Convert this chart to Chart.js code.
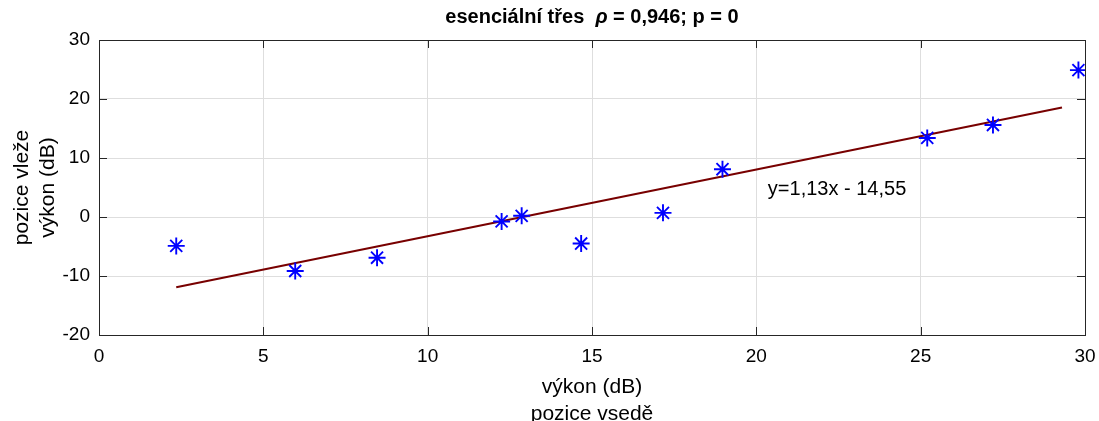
<!DOCTYPE html>
<html>
<head>
<meta charset="utf-8">
<script src="https://cdn.jsdelivr.net/npm/chart.js@4"></script>
<style>
    html, body { margin: 0; padding: 0; background: #fff; }
    #wrap { width: 1099px; height: 421px; }
</style>
</head>
<body>
<div id="wrap"><canvas id="myScatterChart"></canvas></div>
<script>
// values
var pointX = [2.35, 5.97, 8.46, 12.25, 12.86, 14.67, 17.16, 18.97, 25.2, 27.2, 29.8];
var pointY = [-4.9, -9.15, -6.9, -0.75, 0.2, -4.5, 0.7, 8.1, 13.4, 15.6, 24.9];
var fitX = [2.35, 29.3];
var fitY = [-11.9, 18.56];
var xTicks = [0, 5, 10, 15, 20, 25, 30];
var yTicks = [-20, -10, 0, 10, 20, 30];
var fitLabel = "y=1,13x - 14,55";
var fitLabelPos = [20.35, 4.6];

var fontName = "'Liberation Sans', Arial, sans-serif";
var axisColor = "#262626";

function toPoints(xs, ys) {
    var out = [];
    for (var i = 0; i < xs.length; i++) {
        out.push({ x: xs[i], y: ys[i] });
    }
    return out;
}

// title with italic rho, box around plot, inward tick marks, fit text
var matlabLook = {
    id: "matlabLook",
    afterDraw: function (chart) {
        var ctx = chart.ctx;
        var area = chart.chartArea;
        var xs = chart.scales.x;
        var ys = chart.scales.y;

        ctx.save();
        ctx.strokeStyle = axisColor;
        ctx.lineWidth = 1;
        ctx.beginPath();
        for (var i = 0; i < xTicks.length; i++) {
            var px = Math.round(xs.getPixelForValue(xTicks[i])) + 0.5;
            ctx.moveTo(px, area.bottom);
            ctx.lineTo(px, area.bottom - 8);
            ctx.moveTo(px, area.top);
            ctx.lineTo(px, area.top + 8);
        }
        for (var j = 0; j < yTicks.length; j++) {
            var py = Math.round(ys.getPixelForValue(yTicks[j])) + 0.5;
            ctx.moveTo(area.left, py);
            ctx.lineTo(area.left + 8, py);
            ctx.moveTo(area.right, py);
            ctx.lineTo(area.right - 8, py);
        }
        ctx.stroke();
        ctx.strokeRect(Math.round(area.left) + 0.5, Math.round(area.top) + 0.5,
            Math.round(area.right - area.left), Math.round(area.bottom - area.top));

        // fit equation
        ctx.fillStyle = "#000";
        ctx.font = "20px " + fontName;
        ctx.textBaseline = "middle";
        ctx.textAlign = "left";
        ctx.fillText(fitLabel, xs.getPixelForValue(fitLabelPos[0]), ys.getPixelForValue(fitLabelPos[1]));

        // title
        var parts = [
            { t: "esenciální třes  ", f: "bold 20px " + fontName },
            { t: "ρ", f: "italic bold 20px " + fontName },
            { t: " = 0,946; p = 0", f: "bold 20px " + fontName }
        ];
        var total = 0;
        parts.forEach(function (p) { ctx.font = p.f; p.w = ctx.measureText(p.t).width; total += p.w; });
        var tx = (area.left + area.right) / 2 - total / 2;
        ctx.fillStyle = "#000";
        parts.forEach(function (p) {
            ctx.font = p.f;
            ctx.fillText(p.t, tx, 17);
            tx += p.w;
        });
        ctx.restore();
    }
};

function displayScatterChart() {
    var canvasID = document.getElementById("myScatterChart");

    var scatterData = {
        datasets: [{
            type: "line",
            data: toPoints(fitX, fitY),
            borderColor: "#780000",
            borderWidth: 2.2,
            pointRadius: 0,
            fill: false,
            order: 2
        }, {
            type: "scatter",
            data: toPoints(pointX, pointY),
            pointStyle: "star",
            pointRadius: 8.5,
            pointHoverRadius: 8.5,
            borderColor: "#0000ff",
            backgroundColor: "#0000ff",
            pointBorderWidth: 1.9,
            order: 1
        }]
    };

    var scatterOptions = {
        responsive: true,
        maintainAspectRatio: false,
        animation: false,
        layout: {
            padding: { top: 40, right: 14, left: 0, bottom: 0 }
        },
        plugins: {
            legend: { display: false },
            tooltip: { enabled: false }
        },
        scales: {
            x: {
                type: "linear",
                min: 0,
                max: 30,
                afterBuildTicks: function (scale) {
                    scale.ticks = xTicks.map(function (v) { return { value: v }; });
                },
                afterFit: function (scale) {
                    scale.height = 86;
                    scale.paddingLeft = 0;
                    scale.paddingRight = 0;
                },
                grid: { color: "#dedede", drawTicks: false },
                border: { color: axisColor },
                ticks: {
                    color: "#000",
                    padding: 10,
                    maxRotation: 0,
                    font: { family: fontName, size: 19 }
                },
                title: {
                    display: true,
                    text: ["výkon (dB)", "pozice vsedě"],
                    color: "#000",
                    padding: { top: 0, bottom: -7 },
                    font: { family: fontName, size: 21, lineHeight: 1.3 }
                }
            },
            y: {
                type: "linear",
                min: -20,
                max: 30,
                afterBuildTicks: function (scale) {
                    scale.ticks = yTicks.map(function (v) { return { value: v }; });
                },
                afterFit: function (scale) { scale.width = 99; },
                grid: { color: "#dedede", drawTicks: false },
                border: { color: axisColor },
                ticks: {
                    color: "#000",
                    padding: 9,
                    font: { family: fontName, size: 19 }
                },
                title: {
                    display: true,
                    text: ["pozice vleže", "výkon (dB)"],
                    color: "#000",
                    padding: { top: 9, bottom: 0 },
                    font: { family: fontName, size: 21, lineHeight: 1.25 }
                }
            }
        }
    };

    // define the chart
    return new Chart(canvasID, {
        data: scatterData,
        options: scatterOptions,
        plugins: [matlabLook]
    });
}

var myScatterChart = displayScatterChart();
</script>
</body>
</html>
